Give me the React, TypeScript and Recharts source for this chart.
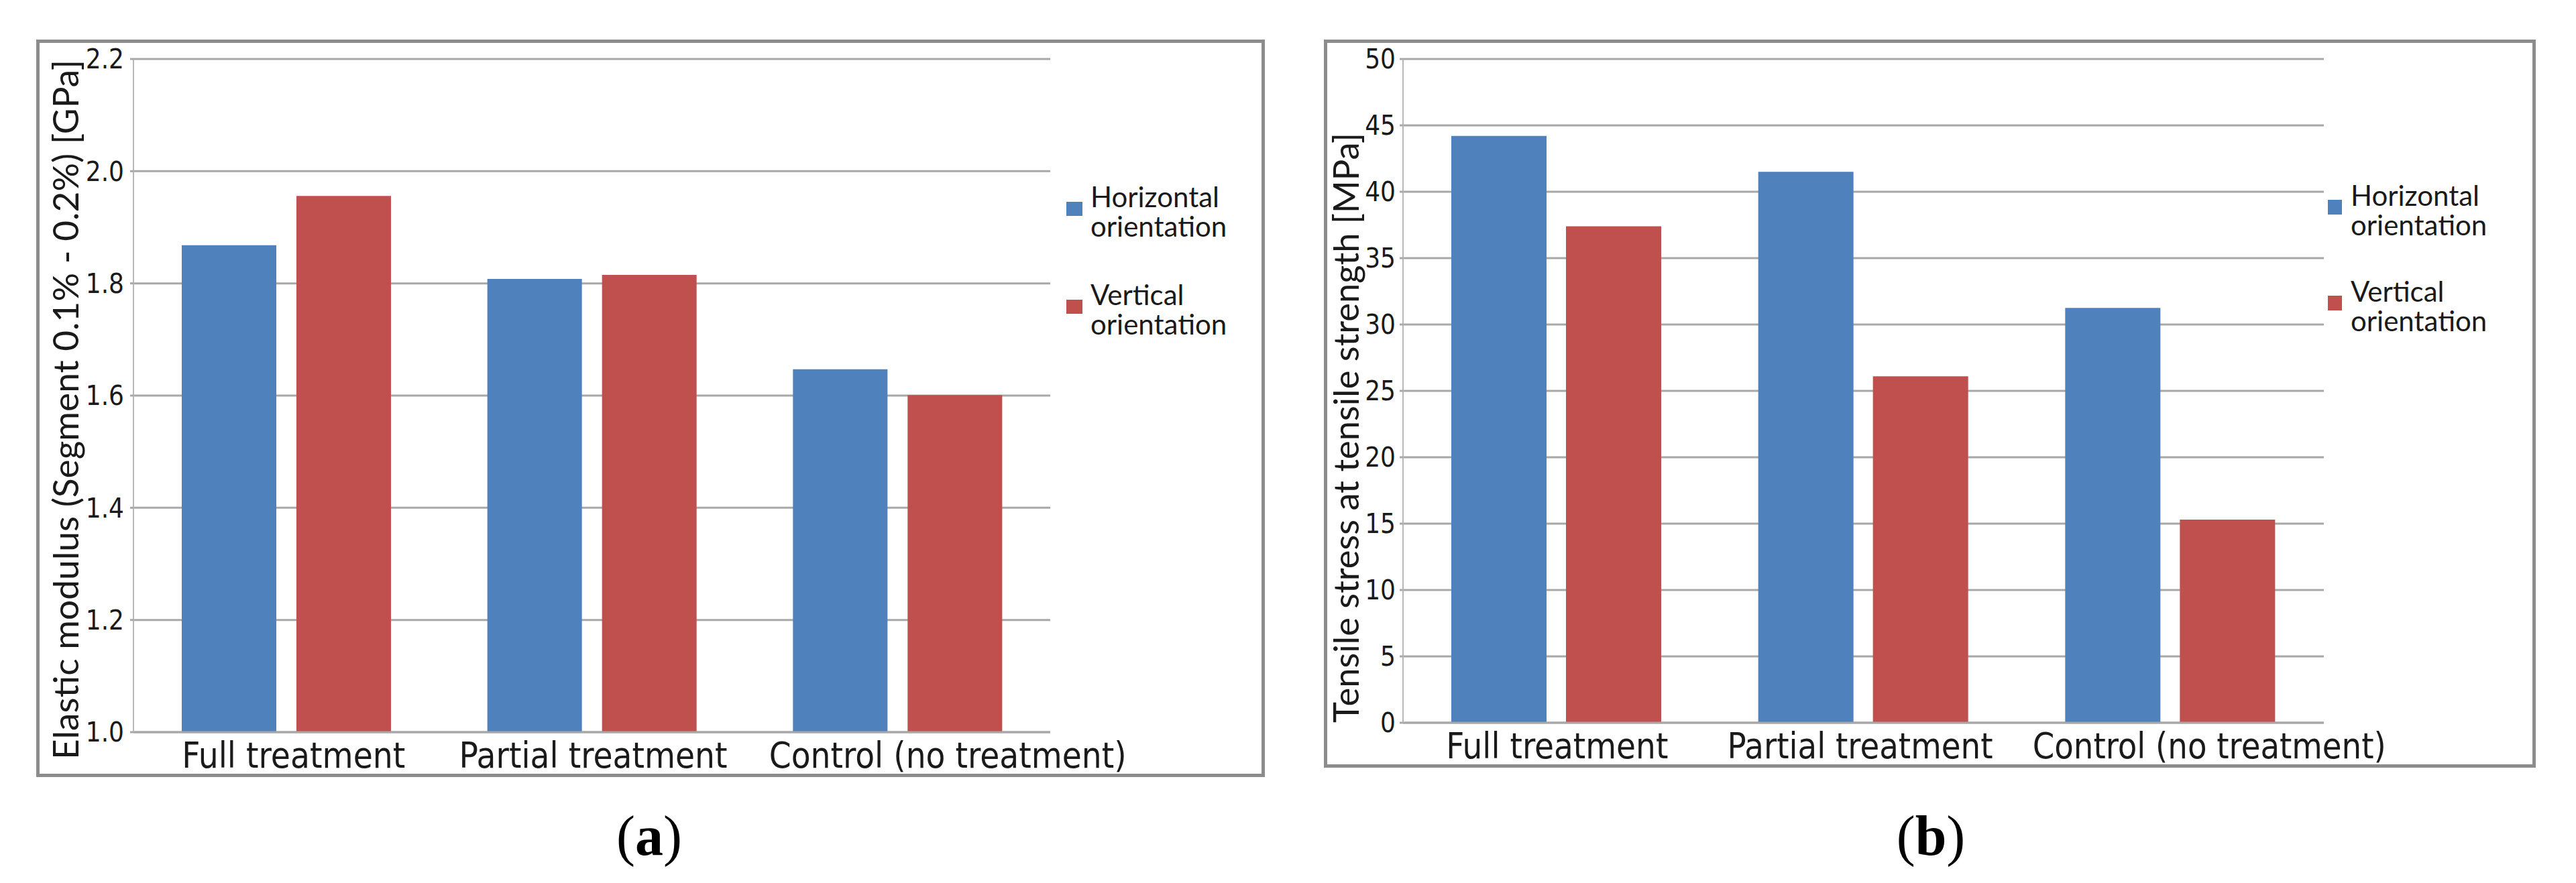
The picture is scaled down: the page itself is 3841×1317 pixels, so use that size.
import { BarChart, Bar, XAxis, YAxis, CartesianGrid, Legend } from 'recharts';

const categories = ['Full treatment', 'Partial treatment', 'Control (no treatment)'];

// (a) elastic modulus, GPa
const modulusHorizontal = [1.868, 1.808, 1.647];
const modulusVertical = [1.956, 1.815, 1.601];
const modulusTicks = [1.0, 1.2, 1.4, 1.6, 1.8, 2.0, 2.2];

// (b) tensile stress, MPa
const stressHorizontal = [44.2, 41.5, 31.25];
const stressVertical = [37.4, 26.1, 15.3];
const stressTicks = [0, 5, 10, 15, 20, 25, 30, 35, 40, 45, 50];

const seriesNames = ['Horizontal orientation', 'Vertical orientation'];

const modulusData = categories.map((name, i) => ({
  name,
  horizontal: modulusHorizontal[i],
  vertical: modulusVertical[i],
}));

const stressData = categories.map((name, i) => ({
  name,
  horizontal: stressHorizontal[i],
  vertical: stressVertical[i],
}));

const BLUE = '#4f81bd';
const RED = '#c0504d';
const GRID = '#a8a8a8';
const NARROW = "'Liberation Sans Narrow', 'DejaVu Sans Condensed', 'Liberation Sans', sans-serif";

function CatTick(props: any) {
  const { x, y, payload, index, shifts, lengths } = props;
  return (
    <text
      x={x + shifts[index]}
      y={y}
      dy="0.71em"
      textAnchor="middle"
      fontSize={53}
      fontFamily={NARROW}
      fontStretch="condensed"
      fill="#1a1a1a"
      textLength={lengths[index]}
      lengthAdjust="spacingAndGlyphs"
    >
      {payload.value}
    </text>
  );
}

function axisTitle(text: string, dx: number, dy: number, len: number) {
  return (props: any) => {
    const vb = props.viewBox;
    const cx = vb.x + dx;
    const cy = vb.y + vb.height / 2 + dy;
    return (
      <text
        x={cx}
        y={cy}
        transform={`rotate(-90 ${cx} ${cy})`}
        textAnchor="middle"
        fontSize={52}
        fontFamily="Lato, 'Open Sans', sans-serif"
        fill="#1a1a1a"
        textLength={len}
        lengthAdjust="spacingAndGlyphs"
      >
        {text}
      </text>
    );
  };
}

function LegendList(props: any) {
  const { payload, sq, textLeft, gap } = props;
  return (
    <div style={{ fontFamily: 'Lato, sans-serif', fontSize: 42, lineHeight: '44px', color: '#1a1a1a' }}>
      {(payload || []).map((e: any, i: number) => (
        <div
          key={i}
          style={{ position: 'relative', paddingLeft: textLeft, width: 250, marginBottom: i === 0 ? gap : 0 }}
        >
          <span
            style={{
              position: 'absolute',
              left: 0,
              top: sq.top,
              width: sq.w,
              height: sq.h,
              background: e.color,
            }}
          />
          {e.value}
        </div>
      ))}
    </div>
  );
}

function Panel(props: any) {
  const {
    data, ticks, domain, fmt, width, height, yWidth, right, tickGap,
    title, titleDx, titleDy, titleLen, shifts, lengths, legendPos, sq, textLeft, gap, barSize, barGap,
  } = props;
  return (
    <BarChart
      width={width}
      height={height}
      data={data}
      margin={{ top: 24, right, left: 0, bottom: 0 }}
      barSize={barSize}
      barGap={barGap}
    >
      <CartesianGrid vertical={false} stroke={GRID} strokeWidth={3} />
      <XAxis
        dataKey="name"
        height={76}
        interval={0}
        axisLine={{ stroke: GRID, strokeWidth: 3 }}
        tickLine={false}
        tickSize={0}
        tickMargin={15}
        tick={(p: any) => <CatTick {...p} shifts={shifts} lengths={lengths} />}
      />
      <YAxis
        type="number"
        domain={domain}
        ticks={ticks}
        interval={0}
        width={yWidth}
        allowDataOverflow
        tickFormatter={fmt}
        axisLine={{ stroke: '#b8b8b8', strokeWidth: 2 }}
        tickLine={{ stroke: GRID, strokeWidth: 3 }}
        tickSize={5}
        tickMargin={tickGap}
        tick={{ fontSize: 40, fontFamily: NARROW, fill: '#1a1a1a', fontStretch: 'condensed' }}
        label={axisTitle(title, titleDx, titleDy, titleLen)}
      />
      <Legend
        layout="vertical"
        align="center"
        verticalAlign="middle"
        wrapperStyle={{ left: legendPos[0], top: legendPos[1], width: 320 }}
        content={(p: any) => <LegendList {...p} sq={sq} textLeft={textLeft} gap={gap} />}
      />
      <Bar dataKey="horizontal" name={seriesNames[0]} fill={BLUE} isAnimationActive={false} />
      <Bar dataKey="vertical" name={seriesNames[1]} fill={RED} isAnimationActive={false} />
    </BarChart>
  );
}

export default function App() {
  return (
    <div style={{ position: 'absolute', left: 0, top: 0, width: 3841, height: 1317, background: '#fff', overflow: 'hidden' }}>
      <svg width={3841} height={1317} style={{ position: 'absolute', left: 0, top: 0 }}>
        <text x={968} y={1275} textAnchor="middle" fontSize={84} fontFamily="'Liberation Serif', serif" fill="#000">
          (<tspan fontWeight="bold">a</tspan>)
        </text>
        <text x={2879} y={1275} textAnchor="middle" fontSize={84} fontFamily="'Liberation Serif', serif" fill="#000">
          (<tspan fontWeight="bold">b</tspan>)
        </text>
      </svg>

      <div style={{ position: 'absolute', left: 54, top: 59, width: 1832, height: 1100, border: '5px solid #8c8c8c', boxSizing: 'border-box' }} />
      <div style={{ position: 'absolute', left: 59, top: 64 }}>
        <Panel
          data={modulusData}
          ticks={modulusTicks}
          domain={[1.0, 2.2]}
          fmt={(v: number) => v.toFixed(1)}
          width={1822}
          height={1104}
          yWidth={140}
          right={315}
          tickGap={9}
          title="Elastic modulus (Segment 0.1% - 0.2%) [GPa]"
          titleDx={58}
          titleDy={21}
          titleLen={1044}
          shifts={[11, 2, 75]}
          lengths={[333, 400, 533]}
          legendPos={[1531, 207]}
          sq={{ top: 30, w: 24, h: 21 }}
          textLeft={36}
          gap={58}
          barSize={141}
          barGap={30}
        />
      </div>

      <div style={{ position: 'absolute', left: 1974, top: 59, width: 1807, height: 1086, border: '5px solid #8c8c8c', boxSizing: 'border-box' }} />
      <div style={{ position: 'absolute', left: 1968, top: 64 }}>
        <Panel
          data={stressData}
          ticks={stressTicks}
          domain={[0, 50]}
          fmt={(v: number) => String(v)}
          width={1808}
          height={1090}
          yWidth={124}
          right={311}
          tickGap={6}
          title="Tensile stress at tensile strength [MPa]"
          titleDx={58}
          titleDy={55}
          titleLen={880}
          shifts={[1, -5, 58]}
          lengths={[331, 396, 527]}
          legendPos={[1503, 205]}
          sq={{ top: 29, w: 21, h: 22 }}
          textLeft={34}
          gap={55}
          barSize={142}
          barGap={29}
        />
      </div>
    </div>
  );
}
